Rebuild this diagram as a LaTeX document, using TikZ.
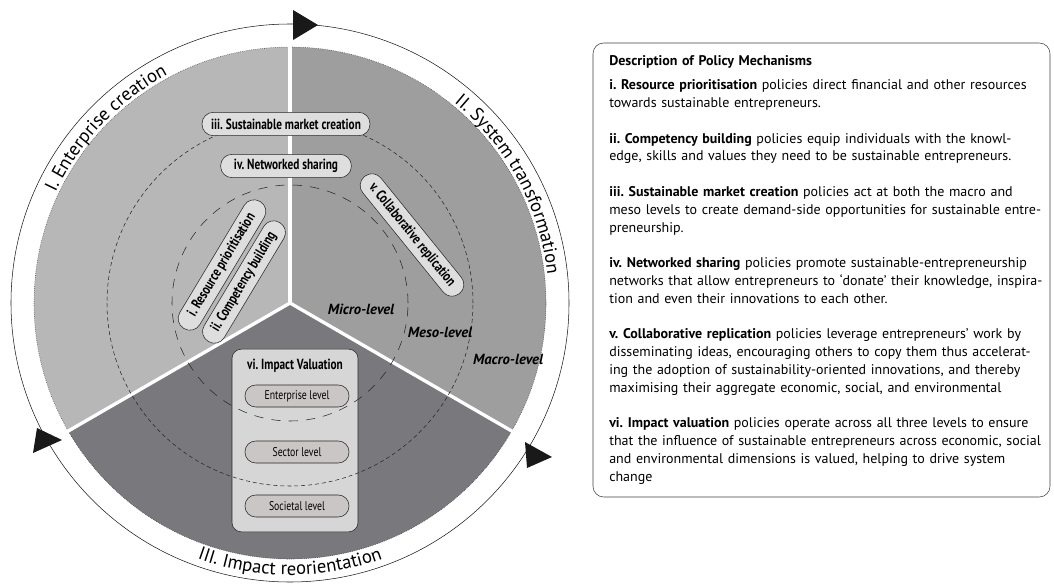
\documentclass[tikz,border=0pt]{standalone}
\usepackage{fontspec}
\setmainfont{PT Sans}
\newfontfamily\condfont[FakeStretch=0.77]{PT Sans}
\usetikzlibrary{shapes, decorations.text, calc, positioning}

\definecolor{sectorone}{HTML}{B7B7B7}
\definecolor{sectortwo}{HTML}{9E9E9E}
\definecolor{sectorthree}{HTML}{79787D}
\definecolor{pillgray}{HTML}{DEDEDE}
\definecolor{boxgray}{HTML}{D6D6D6}
\definecolor{levelgray}{HTML}{CAC6C6}

\newcommand\ringfont{\fontsize{14pt}{16pt}\selectfont}

\tikzstyle{pill} = [rectangle, draw=black!85, fill=pillgray, rounded corners=8.5pt,
  minimum height=17.5pt, inner sep=1pt, font=\condfont\bfseries\fontsize{11pt}{12pt}\selectfont]
\tikzstyle{levelpill} = [rectangle, draw=black!85, fill=levelgray, rounded corners=8pt,
  minimum height=16.5pt, minimum width=78pt, inner sep=1pt, font=\condfont\fontsize{9.5pt}{11pt}\selectfont]
\tikzstyle{levellabel} = [inner sep=0pt, font=\bfseries\itshape\fontsize{11pt}{12pt}\selectfont]
\tikzstyle{valuebox} = [rectangle, draw=black!85, fill=boxgray, rounded corners=7pt,
  minimum width=94.5pt, minimum height=137pt]
\tikzstyle{ringtext} = [decorate, decoration={text along path, text align=center}]

\begin{document}
\frenchspacing
\begin{tikzpicture}[x=0.75pt, y=0.75pt]
  \useasboundingbox (0,0) rectangle (1054,587);
  \coordinate (hub) at (290,284);

  % sectors of the disk
  \fill[sectorone] (hub) -- ($(hub)+(90:256)$) arc[start angle=90, end angle=210, radius=256] -- cycle;
  \fill[sectortwo] (hub) -- ($(hub)+(-30:256)$) arc[start angle=-30, end angle=90, radius=256] -- cycle;
  \fill[sectorthree] (hub) -- ($(hub)+(210:256)$) arc[start angle=210, end angle=330, radius=256] -- cycle;
  \draw[densely dotted, black!80] (hub) circle (256);
  \foreach \a in {90,210,330}
    \draw[white, line width=2.5pt] (hub) -- ($(hub)+(\a:257)$);

  % outer cycle
  \draw[black!90] (hub) circle (279);
  \fill[black!90] (293,577) -- (293,547) -- (318,562) -- cycle;
  \fill[black!90] (525,145) -- (527,119) -- (552,130) -- cycle;
  \fill[black!90] (37,159) -- (33,134) -- (62,147) -- cycle;

  \path[ringtext, decoration={text={|\ringfont|I. Enterprise creation}}]
    ($(hub)+(176:259)$) arc[start angle=176, end angle=97, radius=259];
  \path[ringtext, decoration={text={|\ringfont|II. System transformation}}]
    ($(hub)+(68:259)$) arc[start angle=68, end angle=-11, radius=259];
  \path[ringtext, decoration={text={|\ringfont|III. Impact reorientation}}]
    ($(hub)+(230:272)$) arc[start angle=230, end angle=310, radius=272];

  % impact valuation
  \node[valuebox] (valuation) at (295,146.5) {};
  \node[font=\condfont\bfseries\fontsize{11pt}{12pt}\selectfont, below=4pt of valuation.north] (valtitle) {vi. Impact Valuation};

  % levels
  \draw[dash pattern=on 3pt off 2.2pt, black!85] (hub) circle (183);
  \draw[dash pattern=on 7pt off 6pt, black!85] (hub) circle (118);

  \node[levelpill] (enterprise) at (297,191) {Enterprise level};
  \node[levelpill] (sector) at (297,135) {Sector level};
  \node[levelpill] (societal) at (297,81) {Societal level};

  \node[pill, minimum width=126pt] (market) at (286,463) {iii. Sustainable market creation};
  \node[pill, minimum width=98pt] (sharing) at (286,421) {iv. Networked sharing};
  \node[pill, minimum width=111pt, rotate=59] (resource) at (222,322) {i. Resource prioritisation};
  \node[pill, minimum width=104pt, rotate=59] (competency) at (244,305) {ii. Competency building};
  \node[pill, minimum width=113pt, rotate=-51] (replication) at (412,352) {v. Collaborative replication};

  \node[levellabel] (micro) at (361,278) {Micro-level};
  \node[levellabel] (meso) at (440,255) {Meso-level};
  \node[levellabel] (macro) at (508,228) {Macro-level};

  % description
  \node[rectangle, draw=black!75, rounded corners=8pt, minimum width=342.75pt, minimum height=340.5pt] (descbox) at (821.5,317) {};
  \node[anchor=north west, inner sep=0pt, text width=340pt, align=left,
    font=\fontsize{10.5pt}{13.35pt}\selectfont] (desc) at (609,532) {%
    \textbf{Description of Policy Mechanisms}\\[5pt]
    \textbf{i. Resource prioritisation} policies direct financial and other resources\\
    towards sustainable entrepreneurs.\\[13.35pt]
    \textbf{ii. Competency building} policies equip individuals with the knowl-\\
    edge, skills and values they need to be sustainable entrepreneurs.\\[13.35pt]
    \textbf{iii. Sustainable market creation} policies act at both the macro and\\
    meso levels to create demand-side opportunities for sustainable entre-\\
    preneurship.\\[13.35pt]
    \textbf{iv. Networked sharing} policies promote sustainable-entrepreneurship\\
    networks that allow entrepreneurs to ‘donate’ their knowledge, inspira-\\
    tion and even their innovations to each other.\\[13.35pt]
    \textbf{v. Collaborative replication} policies leverage entrepreneurs’ work by\\
    disseminating ideas, encouraging others to copy them thus accelerat-\\
    ing the adoption of sustainability-oriented innovations, and thereby\\
    maximising their aggregate economic, social, and environmental\\[13.35pt]
    \textbf{vi. Impact valuation} policies operate across all three levels to ensure\\
    that the influence of sustainable entrepreneurs across economic, social\\
    and environmental dimensions is valued, helping to drive system\\
    change};
\end{tikzpicture}
\end{document}
